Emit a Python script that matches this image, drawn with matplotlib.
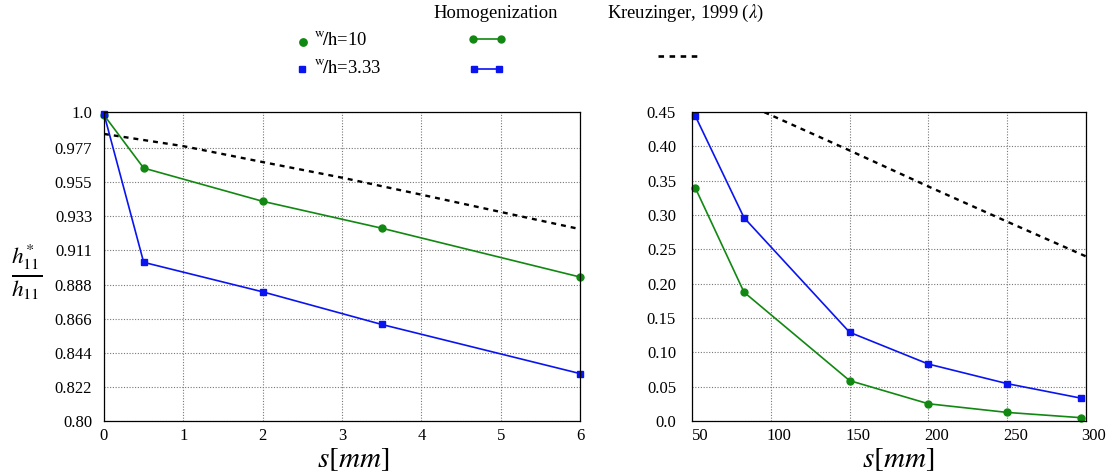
import matplotlib
matplotlib.use("Agg")
import matplotlib.pyplot as plt
from matplotlib.lines import Line2D
from matplotlib.transforms import ScaledTranslation

plt.rcParams['font.family'] = ['Liberation Serif', 'DejaVu Serif']
plt.rcParams['mathtext.fontset'] = 'stix'

# ---- data (left panel) ----
s_small = [0.0, 0.5, 2.0, 3.5, 6.0]
green_small = [0.998, 0.9637, 0.9422, 0.9248, 0.8932]
blue_small = [0.9987, 0.9027, 0.8836, 0.8625, 0.8307]
kreuz_s_small = [0, 1, 2, 3, 4, 5, 6]
kreuz_small = [0.9858, 0.9779, 0.9676, 0.9575, 0.9465, 0.9353, 0.9242]
left_yticks = [0.80, 0.822, 0.844, 0.866, 0.888, 0.911, 0.933, 0.955, 0.977, 1.0]
left_ytick_labels = ["0.80", "0.822", "0.844", "0.866", "0.888", "0.911", "0.933", "0.955", "0.977", "1.0"]
left_xticks = [0, 1, 2, 3, 4, 5, 6]

# ---- data (right panel) ----
s_large = [52, 83, 150, 200, 250, 297]
green_large = [0.340, 0.1876, 0.0588, 0.0251, 0.0125, 0.0048]
blue_large = [0.4447, 0.2961, 0.1292, 0.0829, 0.0544, 0.0332]
kreuz_s_large = [50, 150, 200, 250, 300]
kreuz_large = [0.497, 0.394, 0.3415, 0.2903, 0.2397]
right_yticks = [0.0, 0.05, 0.10, 0.15, 0.20, 0.25, 0.30, 0.35, 0.40, 0.45]
right_ytick_labels = ["0.0", "0.05", "0.10", "0.15", "0.20", "0.25", "0.30", "0.35", "0.40", "0.45"]
right_xticks = [50, 100, 150, 200, 250, 300]

GREEN = '#118811'
BLUE = '#0a14f0'
DASH = (0, (2.1, 2.1))

W, H = 1114, 472
fig = plt.figure(figsize=(W / 100, H / 100), dpi=100)

def fx(px):
    return px / W

def fy(py):
    return 1 - py / H

axL = fig.add_axes([fx(104), fy(421), fx(580 - 104), (421 - 112) / H])
axR = fig.add_axes([fx(692), fy(421), fx(1086 - 692), (421 - 112) / H])

def style(ax, ypad):
    ax.grid(True, linestyle=(0, (1, 1.5)), color='#777777', linewidth=0.8)
    ax.set_axisbelow(True)
    ax.tick_params(length=0, labelsize=12)
    ax.tick_params(axis='x', pad=5)
    ax.tick_params(axis='y', pad=ypad)
    for sp in ax.spines.values():
        sp.set_linewidth(0.9)
        sp.set_color('black')

# left
axL.plot(kreuz_s_small, kreuz_small, color='black', linestyle=DASH, linewidth=1.7)
axL.plot(s_small, green_small, color=GREEN, marker='o', markersize=5, linewidth=1.2, clip_on=False)
axL.plot(s_small, blue_small, color=BLUE, marker='s', markersize=5, linewidth=1.2, clip_on=False)
axL.set_xlim(0, 6)
axL.set_ylim(0.80, 1.0)
axL.set_xticks(left_xticks)
axL.set_yticks(left_yticks)
axL.set_yticklabels(left_ytick_labels)
style(axL, 8.5)
axL.set_xlabel(r"$s[mm]$", fontsize=21, va='center')
axL.xaxis.set_label_coords(0.523, -0.125)
axL.set_ylabel(r"$\frac{h^{*}_{11}}{h_{11}}$", fontsize=24, rotation=0, va='center', ha='center')
axL.yaxis.set_label_coords(-0.162, 0.482)

# right
axR.plot(kreuz_s_large, kreuz_large, color='black', linestyle=DASH, linewidth=1.7)
axR.plot(s_large, green_large, color=GREEN, marker='o', markersize=5, linewidth=1.2, clip_on=False)
axR.plot(s_large, blue_large, color=BLUE, marker='s', markersize=5, linewidth=1.2, clip_on=False)
axR.set_xlim(50, 300)
axR.set_ylim(0.0, 0.45)
axR.set_xticks(right_xticks)
axR.set_yticks(right_yticks)
axR.set_yticklabels(right_ytick_labels)
style(axR, 11.5)
for lab in axR.get_xticklabels():
    lab.set_transform(lab.get_transform() + ScaledTranslation(8 / 100, 0, fig.dpi_scale_trans))
axR.set_xlabel(r"$s[mm]$", fontsize=21, va='center')
axR.xaxis.set_label_coords(0.523, -0.125)

# ---- custom legend ----
fig.text(fx(496), fy(13), "Homogenization", ha='center', va='center', fontsize=13.4)
fig.text(fx(686), fy(13), r"Kreuzinger, 1999 ($\lambda$)", ha='center', va='center', fontsize=13.4)

fig.add_artist(Line2D([fx(303)], [fy(42)], marker='o', color=GREEN, markersize=5.3, linestyle='none'))
fig.add_artist(Line2D([fx(302)], [fy(69)], marker='s', color=BLUE, markersize=5, linestyle='none'))
fig.text(fx(314), fy(40), r"$^{\mathrm{w}}\!/\mathrm{h}$=10", ha='left', va='center', fontsize=13.4)
fig.text(fx(314), fy(68), r"$^{\mathrm{w}}\!/\mathrm{h}$=3.33", ha='left', va='center', fontsize=13.4)

fig.add_artist(Line2D([fx(473), fx(501)], [fy(38.5), fy(38.5)], color=GREEN, marker='o', markersize=5, linewidth=1.2))
fig.add_artist(Line2D([fx(474), fx(499)], [fy(68.5), fy(68.5)], color=BLUE, marker='s', markersize=5, linewidth=1.2))
fig.add_artist(Line2D([fx(658), fx(699)], [fy(56), fy(56)], color='black', linestyle=DASH, linewidth=1.9))

fig.savefig("out.png", dpi=100)
